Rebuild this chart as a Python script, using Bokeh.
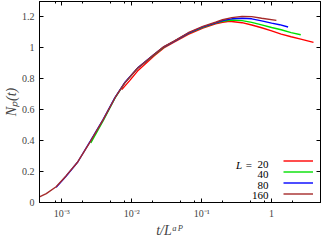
import math
from bokeh.plotting import figure
from bokeh.models import (Range1d, LogAxis, LinearAxis, FixedTicker, CustomJSTickFormatter,
                          Label, Legend, LegendItem)
from bokeh.core.properties import value
from bokeh.embed import file_html
from bokeh.resources import INLINE

# ---------------- data ----------------
L_labels = ["20", "40", "80", "160"]
colors = ["#ff0000", "#00e000", "#0000ff", "#a52a2a"]

t_L20 = [0.0072, 0.0094, 0.0121, 0.0208, 0.0288, 0.0397, 0.0643, 0.104, 0.158, 0.199, 0.25,
         0.378, 0.52, 0.72, 1.0, 1.37, 1.9, 2.61, 3.97]
N_L20 = [0.73, 0.79, 0.85, 0.948, 1.0, 1.035, 1.088, 1.128, 1.156, 1.166, 1.172,
         1.163, 1.148, 1.13, 1.11, 1.089, 1.072, 1.057, 1.036]

t_L40 = [0.0026, 0.00391, 0.00575, 0.0079, 0.0121, 0.0208, 0.0288, 0.0397, 0.0643, 0.104, 0.158,
         0.199, 0.27, 0.378, 0.52, 0.72, 1.0, 1.37, 1.9, 2.61]
N_L40 = [0.385, 0.53, 0.675, 0.772, 0.868, 0.955, 1.005, 1.04, 1.094, 1.133, 1.16,
         1.172, 1.18, 1.176, 1.165, 1.149, 1.132, 1.117, 1.099, 1.085]

t_L80 = [0.00083, 0.00115, 0.00169, 0.00257, 0.00391, 0.00575, 0.0079, 0.0121, 0.0208, 0.0288,
         0.0397, 0.0643, 0.104, 0.158, 0.199, 0.27, 0.378, 0.52, 0.72, 1.0, 1.3, 1.72]
N_L80 = [0.098, 0.17, 0.262, 0.398, 0.538, 0.678, 0.774, 0.869, 0.957, 1.007,
         1.041, 1.096, 1.136, 1.162, 1.177, 1.188, 1.192, 1.188, 1.175, 1.16, 1.15, 1.135]

t_L160 = [0.00048, 0.0006, 0.00083, 0.00115, 0.00169, 0.00257, 0.00391, 0.00575, 0.0079, 0.0121,
          0.0208, 0.0288, 0.0397, 0.0643, 0.104, 0.158, 0.199, 0.27, 0.378, 0.52, 0.72, 1.17]
N_L160 = [0.036, 0.057, 0.102, 0.172, 0.262, 0.396, 0.536, 0.676, 0.772, 0.868,
          0.957, 1.008, 1.042, 1.098, 1.139, 1.166, 1.182, 1.196, 1.204, 1.202, 1.192, 1.178]

x_major = [1e-3, 1e-2, 1e-1, 1.0]
x_minor = [8e-4, 2e-3, 5e-3, 8e-3, 2e-2, 5e-2, 8e-2, 0.2, 0.5, 0.8, 2.0]
y_major = [0, 0.2, 0.4, 0.6, 0.8, 1.0, 1.2]

x_title = "t/L\u1d45\u1d3e"
y_title = "N\u209a(t)"

series_t = [t_L20, t_L40, t_L80, t_L160]
series_N = [N_L20, N_L40, N_L80, N_L160]

FONT = "Liberation Serif"

# ---------------- figure ----------------
p = figure(width=321, height=240, x_axis_type="log",
           x_range=Range1d(4.8e-4, 5.0), y_range=Range1d(0, 1.3),
           output_backend="svg", toolbar_location=None,
           min_border_left=33, min_border_right=1, min_border_top=1, min_border_bottom=36)
p.grid.visible = False
p.background_fill_color = "white"
p.border_fill_color = "white"
p.outline_line_color = "black"

renderers = []
for t, n, c in zip(series_t, series_N, colors):
    r = p.line(t, n, line_color=c, line_width=1.4)
    renderers.append(r)

xfmt = CustomJSTickFormatter(code="""
const e = Math.round(Math.log10(tick));
if (e === 0) return "1";
const sup = {"-": "\u207b", "0": "\u2070", "1": "\u00b9", "2": "\u00b2", "3": "\u00b3"};
return "10" + String(e).split("").map(c => sup[c]).join("");
""")
yfmt = CustomJSTickFormatter(code="return String(Math.round(tick*10)/10);")
blank = CustomJSTickFormatter(code="return '';")

def style_axis(ax, labels=True):
    ax.axis_line_color = "black"
    ax.major_tick_line_color = "black"
    ax.minor_tick_line_color = "black"
    ax.major_tick_in = 4
    ax.major_tick_out = 0
    ax.minor_tick_in = 2
    ax.minor_tick_out = 0
    ax.major_label_text_font = FONT
    ax.major_label_text_font_size = "10px" if labels else "1px"
    ax.major_label_standoff = 4 if labels else 0

xb = p.xaxis[0]
xb.ticker = FixedTicker(ticks=x_major, minor_ticks=x_minor)
xb.formatter = xfmt
style_axis(xb)
xb.major_label_standoff = 5
xb.axis_label = x_title + "\u2003\u2002"
xb.axis_label_text_font = FONT
xb.axis_label_text_font_style = "italic"
xb.axis_label_text_font_size = "14px"
xb.axis_label_standoff = 1

yl = p.yaxis[0]
yl.ticker = FixedTicker(ticks=y_major)
yl.formatter = yfmt
style_axis(yl)
yl.minor_tick_in = 0
yl.major_label_standoff = 5
yl.axis_label = y_title
yl.axis_label_text_font = FONT
yl.axis_label_text_font_style = "italic"
yl.axis_label_text_font_size = "14px"
yl.axis_label_standoff = 0

xt = LogAxis(ticker=FixedTicker(ticks=x_major, minor_ticks=x_minor), formatter=blank)
style_axis(xt, labels=False)
p.add_layout(xt, "above")

yr = LinearAxis(ticker=FixedTicker(ticks=y_major), formatter=blank)
style_axis(yr, labels=False)
yr.minor_tick_in = 0
p.add_layout(yr, "right")

# ---------------- legend (pixel helpers for text positions) ----------------
def dx(xpix):
    return 10 ** ((xpix - 270.2) / 71.5)

def dy(ypix):
    return (204.0 - ypix) / 156.7

def lab(text, xp, yp, size, style="italic", align="left", baseline="alphabetic"):
    p.add_layout(Label(x=dx(xp), y=dy(yp), text=text, text_font=FONT,
                       text_font_size=size, text_font_style=style, text_align=align,
                       text_baseline=baseline, text_color="black"))

lab("L", 240, 165.7, "11px", align="right")
lab("=", 247, 165.7, "11px", style="normal", align="center")
for i, s in enumerate(L_labels):
    lab(s, 267, 165.7 + i * 10.3, "11px", style="normal", align="right")

items = [LegendItem(label=value(" "), renderers=[r]) for r in renderers]
leg = Legend(items=items, location=(244, 3), orientation="vertical",
             glyph_width=30, glyph_height=11, label_width=0, label_height=11,
             label_standoff=0, spacing=0, padding=0, margin=0,
             border_line_color=None, background_fill_alpha=0,
             label_text_font_size="1px")
p.add_layout(leg, "center")

open("out.html", "w").write(file_html(p, INLINE))
